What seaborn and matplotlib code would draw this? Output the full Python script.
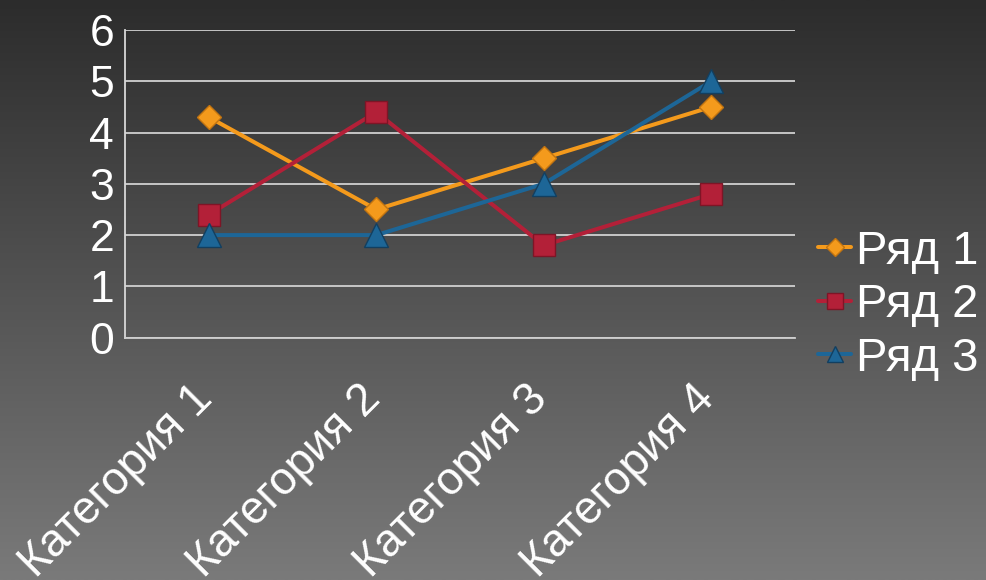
import matplotlib
matplotlib.use('Agg')
import matplotlib.pyplot as plt
import seaborn as sns
import numpy as np
import pandas as pd

categories = ['Категория 1', 'Категория 2', 'Категория 3', 'Категория 4']
series_names = ['Ряд 1', 'Ряд 2', 'Ряд 3']
row1 = [4.3, 2.5, 3.5, 4.5]
row2 = [2.4, 4.4, 1.8, 2.8]
row3 = [2.0, 2.0, 3.0, 5.0]
y_ticks = [0, 1, 2, 3, 4, 5, 6]

sns.set_theme(style='white')
plt.rcParams['font.family'] = ['Liberation Sans', 'DejaVu Sans']

colors = ['#F49A1C', '#B32038', '#1D6697']
edges = ['#C27410', '#7E1526', '#123F60']
markers = ['D', 's', '^']
msizes = [12, 16, 17]

df = pd.DataFrame({
    'cat': categories * 3,
    'x': list(range(4)) * 3,
    'val': row1 + row2 + row3,
    'series': [s for s in series_names for _ in categories],
})

fig = plt.figure(figsize=(9.86, 5.8), dpi=100)

# фон с градиентом
bg = fig.add_axes([0, 0, 1, 1], zorder=-10)
grad = np.linspace(0, 1, 256).reshape(-1, 1)
bg.imshow(grad, aspect='auto', cmap=matplotlib.colors.LinearSegmentedColormap.from_list(
    'g', ['#2c2c2c', '#7a7a7a']), extent=[0, 1, 0, 1])
bg.axis('off')

ax = fig.add_axes([0.127, 0.418, 0.679, 0.530])
ax.set_facecolor('none')

for i, name in enumerate(series_names):
    sub = df[df['series'] == name]
    sns.lineplot(data=sub, x='x', y='val', ax=ax, color=colors[i], linewidth=2.9,
                 marker=markers[i], markersize=msizes[i], markeredgecolor=edges[i],
                 markeredgewidth=1.0, label=name, zorder=3 + i)

ax.set_xlim(-0.5, 3.5)
ax.set_ylim(0, 6)
ax.set_yticks(y_ticks)
ax.set_yticklabels([str(v) for v in y_ticks], fontsize=32, color='white')
ax.yaxis.grid(True, color='#d0d0d0', linewidth=1.3)
ax.set_axisbelow(True)

# границы категорий - большие деления, подписи - на малых (чуть левее центра)
ax.set_xticks([-0.5, 0.5, 1.5, 2.5, 3.5])
ax.set_xticklabels([])
ax.set_xticks([i - 0.11 for i in range(len(categories))], minor=True)
ax.set_xticklabels(categories, minor=True, rotation=45, ha='right',
                   rotation_mode='anchor', fontsize=33, color='white')
ax.tick_params(axis='x', which='major', length=6, width=1, color='#c8c8c8', direction='out')
ax.tick_params(axis='x', which='minor', length=0, pad=28)
ax.tick_params(axis='y', length=6, width=1, color='#c8c8c8', direction='out', pad=2)
ax.set_xlabel('')
ax.set_ylabel('')

for s in ['top', 'right']:
    ax.spines[s].set_visible(False)
ax.spines['left'].set_color('#d8d8d8')
ax.spines['bottom'].set_color('#d0d0d0')
ax.spines['left'].set_linewidth(1.3)
ax.spines['bottom'].set_linewidth(1.3)

leg = ax.legend(loc='center left', bbox_to_anchor=(0.83, 0.474), bbox_transform=fig.transFigure,
                frameon=False, fontsize=34, handlelength=0.7, handletextpad=0.1,
                labelspacing=0.2, borderaxespad=0, borderpad=0)
for t in leg.get_texts():
    t.set_color('white')
for h, ms in zip(leg.legend_handles, [9, 11, 11]):
    h.set_markersize(ms)

fig.savefig('out.png', dpi=100)
